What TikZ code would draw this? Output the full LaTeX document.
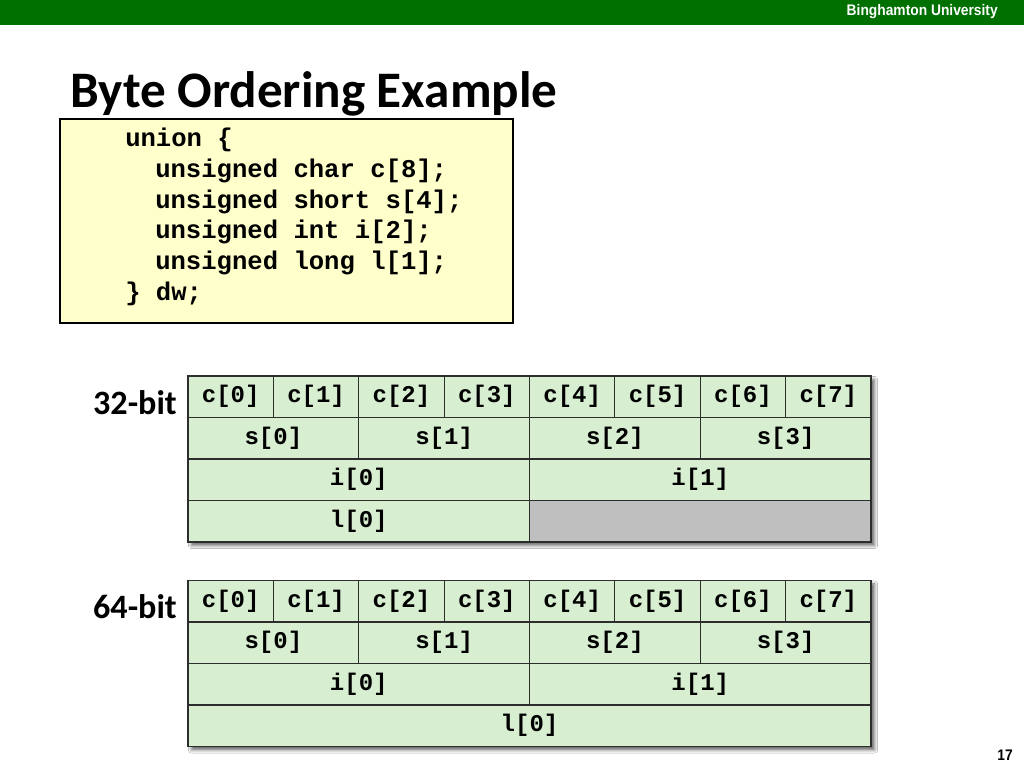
\documentclass[tikz,border=0pt]{standalone}
\usepackage{fontspec}
\setmonofont{Liberation Mono}
\newfontfamily\calibrifont{Carlito}
\newfontfamily\arialfont{Liberation Sans}
\usetikzlibrary{shadows.blur}
\definecolor{bargreen}{RGB}{0,112,0}
\definecolor{codebg}{RGB}{255,255,204}
\definecolor{cellgreen}{RGB}{215,238,209}
\definecolor{cellgray}{RGB}{191,191,191}
\definecolor{gridline}{RGB}{45,45,45}
\tikzset{
  cell/.style={draw=gridline, line width=0.9pt, fill=cellgreen, inner sep=0,
    font=\ttfamily\bfseries\fontsize{18}{20}\selectfont},
  graycell/.style={cell, fill=cellgray},
  tableframe/.style={draw=gridline, line width=0.9pt, fill=cellgreen, inner sep=0,
    blur shadow={shadow xshift=2.6pt, shadow yshift=-2.6pt, shadow blur radius=2.4pt, shadow opacity=60}},
  codeline/.style={anchor=base west, inner sep=0,
    font=\ttfamily\bfseries\fontsize{19.2}{23}\selectfont},
  bitlabel/.style={anchor=base east, inner sep=0,
    font=\calibrifont\bfseries\fontsize{25.6}{30}\selectfont},
}
% \bcell{name}{x1}{y1}{x2}{y2}{text}{style}
\newcommand\bcell[7]{%
  \node[#7, minimum width={((#4)-(#2))*0.75pt}, minimum height={((#5)-(#3))*0.75pt}]
    (#1) at ({((#2)+(#4))/2},{((#3)+(#5))/2}) {#6};}
% \btable{prefix}{ytop}
\newcommand\btable[2]{%
  \bcell{#1frame}{188}{#2}{871}{#2+166}{}{tableframe}
  \foreach \k in {0,...,7}{
    \bcell{#1c\k}{188+\k*85.375}{#2}{188+(\k+1)*85.375}{#2+41.5}{c[\k]}{cell}
  }
  \foreach \k in {0,...,3}{
    \bcell{#1s\k}{188+\k*170.75}{#2+41.5}{188+(\k+1)*170.75}{#2+83}{s[\k]}{cell}
  }
  \foreach \k in {0,1}{
    \bcell{#1i\k}{188+\k*341.5}{#2+83}{188+(\k+1)*341.5}{#2+124.5}{i[\k]}{cell}
  }
}
\begin{document}
\begin{tikzpicture}[x=0.75pt,y=-0.75pt]
\useasboundingbox (0,0) rectangle (1024,768);
\path[fill=white] (0,0) rectangle (1024,768);
% header bar
\path[fill=bargreen] (0,0) rectangle (1024,25);
\node[font=\arialfont\bfseries\fontsize{11.5}{13}\selectfont, text=white,
  anchor=east, inner sep=0, xscale=0.9] (uni) at (998,12) {Binghamton University};
% title
\node[anchor=base west, inner sep=0,
  font=\calibrifont\bfseries\fontsize{38.4}{44}\selectfont] (title) at (70,107.5)
  {Byte Ordering Example};
% code box
\bcell{codebox}{60}{119}{513}{323}{}{draw=black, line width=0.8pt, fill=codebg, inner sep=0}
\node[codeline] (code1) at (125,146.5) {union \{};
\node[codeline] (code2) at (155,177.3) {unsigned char c[8];};
\node[codeline] (code3) at (155,208.1) {unsigned short s[4];};
\node[codeline] (code4) at (155,238.9) {unsigned int i[2];};
\node[codeline] (code5) at (155,269.7) {unsigned long l[1];};
\node[codeline] (code6) at (125,300.5) {\} dw;};
% 32-bit table
\node[bitlabel] (lab32) at (177,414) {32-bit};
\btable{t32}{376}
\bcell{t32l0}{188}{500.5}{529.5}{542}{l[0]}{cell}
\bcell{t32pad}{529.5}{500.5}{871}{542}{}{graycell}
% 64-bit table
\node[bitlabel] (lab64) at (177,618) {64-bit};
\btable{t64}{580.5}
\bcell{t64l0}{188}{705}{871}{746.5}{l[0]}{cell}
% page number
\node[anchor=base east, inner sep=0,
  font=\arialfont\bfseries\fontsize{11.5}{13}\selectfont, xscale=0.9] (page) at (1013,760) {17};
\end{tikzpicture}
\end{document}
